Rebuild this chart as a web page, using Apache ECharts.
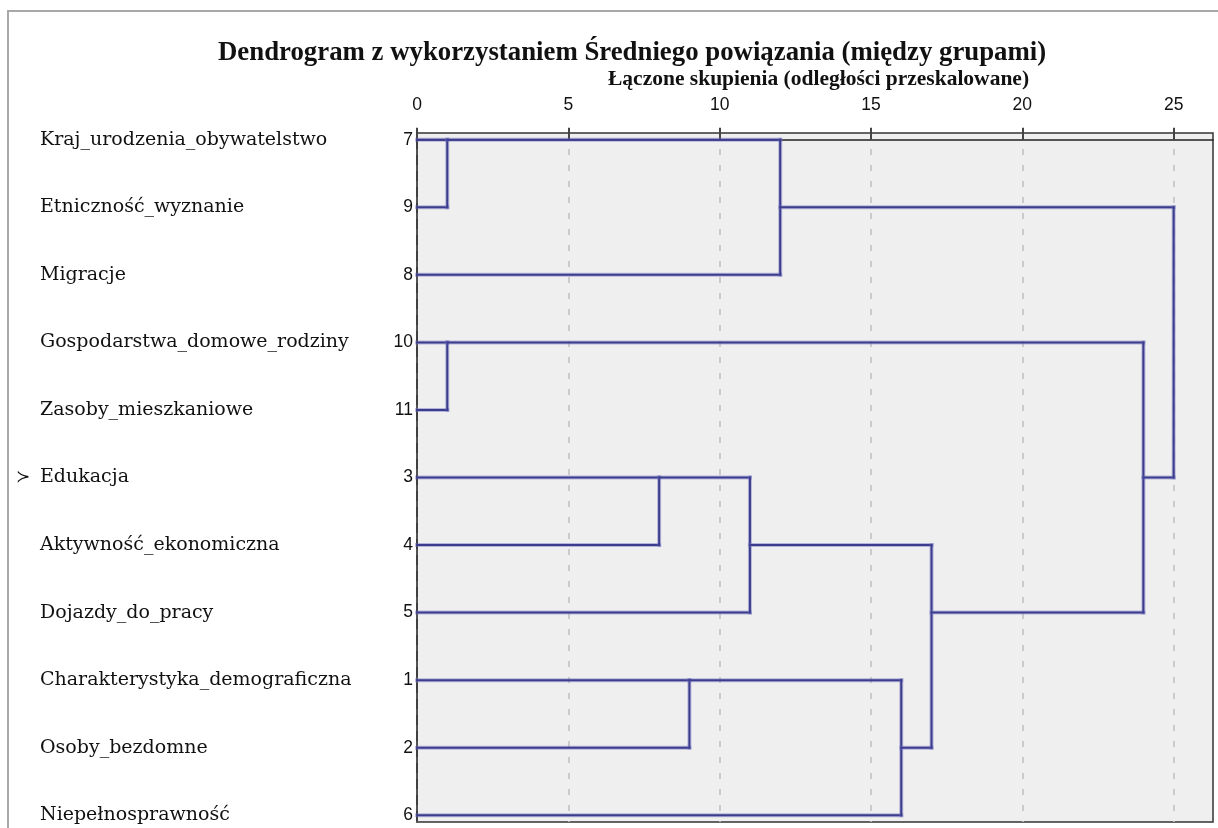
<!DOCTYPE html>
<html>
<head>
<meta charset="utf-8">
<script src="https://cdn.jsdelivr.net/npm/echarts@6/dist/echarts.min.js"></script>
<style>
html,body{margin:0;padding:0;background:#fff;}
#chart{width:1218px;height:828px;}
</style>
</head>
<body>
<div id="chart"></div>
<script>
// ---- data ----
const titleText = 'Dendrogram z wykorzystaniem Średniego powiązania (między grupami)';
const axisTitle = 'Łączone skupienia (odległości przeskalowane)';
const variableNames = ['Kraj_urodzenia_obywatelstwo','Etniczność_wyznanie','Migracje','Gospodarstwa_domowe_rodziny','Zasoby_mieszkaniowe','Edukacja','Aktywność_ekonomiczna','Dojazdy_do_pracy','Charakterystyka_demograficzna','Osoby_bezdomne','Niepełnosprawność'];
const caseNumbers = [7,9,8,10,11,3,4,5,1,2,6];
const markedVariable = 'Edukacja';
const tickValues = [0,5,10,15,20,25];
// merges: [nodeA, nodeB, rescaled distance]; leaves are row indices 0..10, merge k creates node 11+k
const mergeA = [0, 3, 5, 8, 13, 11, 14, 15, 12, 16];
const mergeB = [1, 4, 6, 9, 7, 2, 10, 17, 18, 19];
const mergeDist = [1, 1, 8, 9, 11, 12, 16, 17, 24, 25];

// ---- build segments from the tree ----
const nLeaves = variableNames.length;
const nodeRow = [], nodeDist = [];
for (let i = 0; i < nLeaves; i++) { nodeRow.push(i); nodeDist.push(0); }
const segments = [];
for (let k = 0; k < mergeDist.length; k++) {
  const a = mergeA[k], b = mergeB[k], d = mergeDist[k];
  segments.push([nodeDist[a], nodeRow[a], d, nodeRow[a]]);
  segments.push([nodeDist[b], nodeRow[b], d, nodeRow[b]]);
  segments.push([d, nodeRow[a], d, nodeRow[b]]);
  nodeRow.push(Math.floor((nodeRow[a] + nodeRow[b]) / 2));
  nodeDist.push(d);
}
const rowValues = variableNames.map((_, i) => i);

const chart = echarts.init(document.getElementById('chart'));
const serif = 'Liberation Serif';
const sans = 'Liberation Sans';
chart.setOption({
  backgroundColor: '#ffffff',
  animation: false,
  title: [
    { text: titleText, left: 213, top: 35, textStyle: { fontFamily: serif, fontWeight: 'bold', fontSize: 26.8, color: '#111' } },
    { text: axisTitle, left: 603, top: 63, textStyle: { fontFamily: serif, fontWeight: 'bold', fontSize: 21.5, color: '#111' } }
  ],
  graphic: [
    { type: 'polyline', shape: { points: [[8, 828], [8, 11], [1218, 11]] }, style: { stroke: '#a8a8a8', lineWidth: 2, fill: null } }
  ],
  grid: { left: 417, top: 133, right: 5, bottom: 6, show: true, backgroundColor: '#efefef', borderColor: '#333', borderWidth: 1.5 },
  xAxis: {
    type: 'value', position: 'top', min: 0, max: 26.3, interval: 5,
    axisLine: { show: true, lineStyle: { color: '#222', width: 1.5 } },
    axisTick: { show: true, length: 12, customValues: tickValues, lineStyle: { color: '#444', width: 2 } },
    axisLabel: { customValues: tickValues, margin: 19, fontFamily: sans, fontSize: 17.5, color: '#111' },
    splitLine: { show: true, lineStyle: { type: [6, 10], color: '#c2c2c2', width: 1.6 } }
  },
  yAxis: [
    {
      type: 'value', inverse: true, min: -0.1, max: 10.1, position: 'left',
      axisLine: { show: true, lineStyle: { color: '#333', width: 1.5 } }, axisTick: { show: false }, splitLine: { show: false },
      axisLabel: { customValues: rowValues, formatter: v => String(caseNumbers[Math.round(v)]), margin: 4, fontFamily: sans, fontSize: 17.5, color: '#111' }
    },
    {
      type: 'value', inverse: true, min: -0.1, max: 10.1, position: 'left',
      axisLine: { show: false }, axisTick: { show: false }, splitLine: { show: false },
      axisLabel: { customValues: rowValues, formatter: v => variableNames[Math.round(v)], margin: 377, align: 'left', fontFamily: 'DejaVu Serif', fontSize: 19, color: '#111' }
    },
    {
      type: 'value', inverse: true, min: -0.1, max: 10.1, position: 'left',
      axisLine: { show: false }, axisTick: { show: false }, splitLine: { show: false },
      axisLabel: { customValues: [variableNames.indexOf(markedVariable)], formatter: () => '≻', margin: 401, align: 'left', fontFamily: 'DejaVu Sans', fontSize: 17, color: '#111' }
    }
  ],
  series: [{
    type: 'custom',
    coordinateSystem: 'cartesian2d',
    xAxisIndex: 0, yAxisIndex: 0,
    encode: { x: [0, 2], y: [1, 3] },
    clip: false,
    data: segments,
    renderItem: function (params, api) {
      const p1 = api.coord([api.value(0), api.value(1)]);
      const p2 = api.coord([api.value(2), api.value(3)]);
      const shape = { x1: p1[0], y1: p1[1], x2: p2[0], y2: p2[1] };
      return {
        type: 'group',
        children: [
          { type: 'line', shape: shape, style: { stroke: 'rgba(110,110,190,0.45)', lineWidth: 4, lineCap: 'square' } },
          { type: 'line', shape: shape, style: { stroke: '#3c3c8e', lineWidth: 2, lineCap: 'square' } }
        ]
      };
    }
  }]
});
</script>
</body>
</html>
